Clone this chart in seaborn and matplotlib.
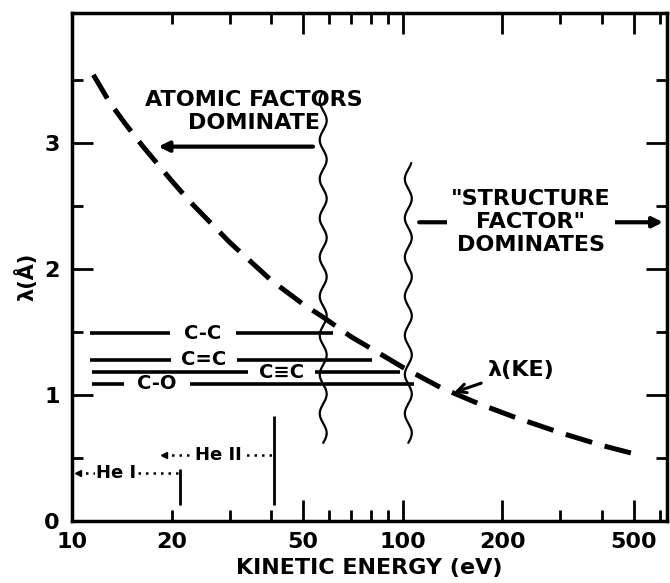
import matplotlib
matplotlib.use("Agg")
import matplotlib.pyplot as plt
import seaborn as sns
import numpy as np

# mean free path curve
kinetic_energy = [11.6, 13, 14.5, 16.4, 20, 22.8, 30, 40, 50, 58, 70, 85, 100, 130, 170, 220, 300, 400, 490]
mean_free_path = [3.54, 3.32, 3.15, 2.97, 2.70, 2.53, 2.21, 1.91, 1.72, 1.61, 1.46, 1.33, 1.22, 1.06, 0.93, 0.82, 0.70, 0.60, 0.54]

# bond lengths
bond_labels = ["C-C", "C=C", "C≡C", "C-O"]
bond_lengths = [1.49, 1.28, 1.18, 1.09]
bond_x_start = [11.3, 11.3, 11.5, 11.5]
bond_x_end = [61.5, 81, 98, 108.5]
bond_label_x = [24.9, 25, 43, 18.1]

# He lamp lines
he_labels = ["He I", "He II"]
he_energy = [21.2, 40.8]
he_level = [0.38, 0.52]
he_line_start = [10.4, 19]
he_label_x = [13.6, 27.7]
he_top = [0.41, 0.83]
he_bottom = 0.13

# wavy borders between regimes
wavy_x = [57.5, 104]
wavy_top = [3.39, 2.84]
wavy_bottom = [0.62, 0.62]

x_major = [10, 50, 100, 200, 500]
x_minor = [20, 30, 40, 60, 70, 80, 90, 300, 400, 600]
x_minor_labels = ["20", "", "", "", "", "", "", "", "", ""]
y_major = [0, 1, 2, 3]
y_minor = [0.5, 1.5, 2.5, 3.5]

sns.set_theme(style="ticks")
plt.rcParams['font.family'] = ['DejaVu Sans']
plt.rcParams['font.weight'] = 'bold'
for k in ["text.color", "axes.labelcolor", "xtick.color", "ytick.color", "axes.edgecolor"]:
    plt.rcParams[k] = "black"

fig = plt.figure(figsize=(6.7, 5.83), dpi=100)
ax = fig.add_axes([0.1075, 0.1063, 0.888, 0.8714])

sns.lineplot(x=kinetic_energy, y=mean_free_path, ax=ax, color="black",
             linewidth=3.6, linestyle=(0, (5.5, 2.6)), legend=False)

# wavy lines
for x0, y0, y1 in zip(wavy_x, wavy_bottom, wavy_top):
    yy = np.linspace(y0, y1, 400)
    xx = x0 * 10 ** (0.0105 * np.sin(2 * np.pi * (yy - y0) / 0.31))
    ax.plot(xx, yy, color="black", linewidth=1.6)

# bond length lines, broken where the label sits
half = 0.1
for lab, lx, ly, xs, xe in zip(bond_labels, bond_label_x, bond_lengths, bond_x_start, bond_x_end):
    ax.hlines([ly, ly], [xs, lx * 10 ** half], [lx / 10 ** half, xe], color="black", linewidth=2.6)
    ax.text(lx, ly, lab, ha="center", va="center", fontsize=14, fontweight="bold")

# He lines
for lab, e, lv, xs, lx, top in zip(he_labels, he_energy, he_level, he_line_start, he_label_x, he_top):
    ax.plot([xs, e], [lv, lv], color="black", linewidth=1.8, linestyle=(0, (1, 2)))
    ax.plot([xs], [lv], marker="<", color="black", markersize=5)
    ax.vlines(e, he_bottom, top, color="black", linewidth=2)
    ax.text(lx, lv, lab, ha="center", va="center", fontsize=13, fontweight="bold",
            bbox=dict(facecolor="white", edgecolor="none", pad=1))

# annotations
ax.text(35.5, 3.25, "ATOMIC FACTORS\nDOMINATE", ha="center", va="center",
        fontsize=16, fontweight="bold", linespacing=1.2)
ax.annotate("", xy=(17.9, 2.97), xytext=(54.6, 2.97),
            arrowprops=dict(arrowstyle="-|>", lw=3, color="black", mutation_scale=15))
ax.annotate("", xy=(625, 2.37), xytext=(110, 2.37),
            arrowprops=dict(arrowstyle="-|>", lw=3, color="black", mutation_scale=15))
ax.text(244, 2.37, "\"STRUCTURE\nFACTOR\"\nDOMINATES", ha="center", va="center",
        fontsize=16, fontweight="bold", linespacing=1.2,
        bbox=dict(facecolor="white", edgecolor="none", pad=3))
ax.annotate("λ(KE)", xy=(143, 1.02), xytext=(180, 1.2), ha="left", va="center",
            fontsize=16, fontweight="bold",
            arrowprops=dict(arrowstyle="->", lw=2.2, color="black", shrinkA=2, shrinkB=0))

ax.set_xscale("log")
ax.set_xlim(10, 630)
ax.set_ylim(0, 4.03)
ax.set_xticks(x_major, labels=[str(v) for v in x_major])
ax.set_xticks(x_minor, labels=x_minor_labels, minor=True)
ax.set_yticks(y_major)
ax.set_yticks(y_minor, labels=["" for _ in y_minor], minor=True)
ax.tick_params(which="both", direction="in", top=True, right=True, width=2, labelsize=16)
ax.tick_params(which="major", length=15)
ax.tick_params(which="minor", length=8)
ax.tick_params(axis="y", which="both", pad=9)
ax.tick_params(axis="x", which="both", pad=8)
for s in ax.spines.values():
    s.set_linewidth(2.5)

ax.set_xlabel("KINETIC ENERGY (eV)", fontsize=16, fontweight="bold", labelpad=4)
ax.set_ylabel("λ(Å)", fontsize=15, fontweight="bold")
ax.yaxis.set_label_coords(-0.058, 0.48)

fig.savefig("out.png", dpi=100)
